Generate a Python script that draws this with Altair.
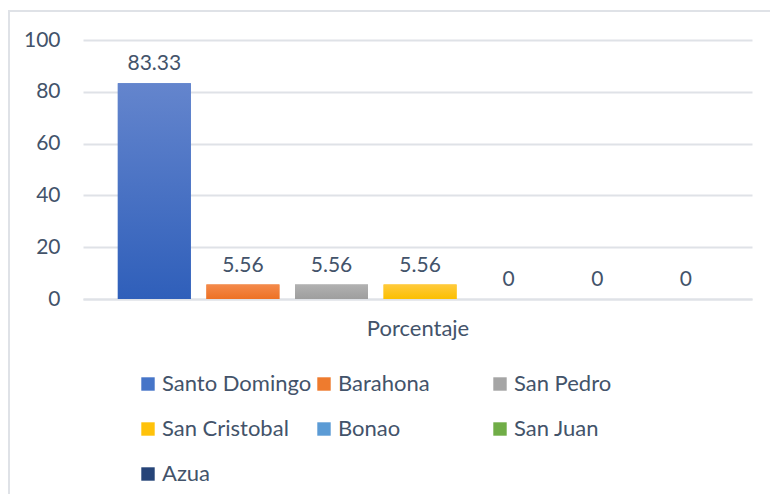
import altair as alt
import pandas as pd

# ---- data ----
series = ["Santo Domingo", "Barahona", "San Pedro", "San Cristobal", "Bonao", "San Juan", "Azua"]
values = [83.33, 5.56, 5.56, 5.56, 0, 0, 0]
labels = ["83.33", "5.56", "5.56", "5.56", "0", "0", "0"]
y_ticks = [0, 20, 40, 60, 80, 100]
category = "Porcentaje"

# ---- styles ----
colors = ["#4675c8", "#ee7b2e", "#a5a5a5", "#ffc20a", "#5b9bd5", "#70ad47", "#264478"]
grad_top = ["#6485cd", "#f48a4b", "#b1b1b1", "#ffca3c", "#6aa5da", "#7db755", "#30528a"]
grad_bot = ["#2f5fba", "#ed7124", "#9e9e9e", "#fbbf00", "#4a8dcc", "#62a03b", "#1f3c6b"]

df = pd.DataFrame({"serie": series, "valor": values, "etiqueta": labels})

FONT = "Lato"
TXT = "#43536a"
GRID = "#dfe2e7"

x_scale = alt.Scale(paddingInner=0.176, paddingOuter=0.364, align=0.54)

x_enc = alt.X(
    "serie:N",
    sort=series,
    scale=x_scale,
    axis=alt.Axis(
        title=category, labels=False, ticks=False, domain=True,
        domainColor=GRID, domainWidth=2,
        titleFont=FONT, titleFontSize=22, titleFontWeight="normal",
        titleColor=TXT, titlePadding=19,
    ),
)
y_enc = alt.Y(
    "valor:Q",
    scale=alt.Scale(domain=[0, 100]),
    axis=alt.Axis(
        values=y_ticks, title=None, domain=False, ticks=False, tickSize=0,
        labelPadding=23, labelFont=FONT, labelFontSize=21, labelColor=TXT,
        gridColor=GRID, gridWidth=2,
    ),
)

bars = alt.Chart(df).mark_bar().encode(
    x=x_enc,
    y=y_enc,
    color=alt.Color(
        "serie:N",
        sort=series,
        scale=alt.Scale(domain=series, range=colors),
        legend=alt.Legend(
            title=None, orient="none", legendX=54, legendY=333,
            direction="horizontal", columns=3, gridAlign="all",
            columnPadding=1, rowPadding=23,
            symbolType="square", symbolSize=180, symbolStrokeWidth=0,
            labelFont=FONT, labelFontSize=22, labelColor=TXT,
            labelOffset=3, padding=0,
        ),
    ),
)

grad_layers = []
for name, top, bot in zip(series, grad_top, grad_bot):
    grad = alt.Gradient(
        gradient="linear", x1=0, x2=0, y1=0, y2=1,
        stops=[alt.GradientStop(color=top, offset=0), alt.GradientStop(color=bot, offset=1)],
    )
    grad_layers.append(
        alt.Chart(df)
        .transform_filter(alt.datum.serie == name)
        .mark_bar(color=grad)
        .encode(x=alt.X("serie:N", sort=series), y=alt.Y("valor:Q"))
    )

text = alt.Chart(df).mark_text(
    font=FONT, fontSize=21, color=TXT, baseline="middle", dy=-19
).encode(
    x=alt.X("serie:N", sort=series),
    y=alt.Y("valor:Q"),
    text="etiqueta:N",
)

frame = alt.Data(values=[{}])
border_left = alt.Chart(frame).mark_rule(color=GRID, strokeWidth=2).encode(
    x=alt.value(-74), y=alt.value(-29), y2=alt.value(460)
)
border_top = alt.Chart(frame).mark_rule(color=GRID, strokeWidth=2).encode(
    x=alt.value(-75), x2=alt.value(700), y=alt.value(-29)
)

chart = alt.layer(border_left, border_top, bars, *grad_layers, text).properties(
    width=669,
    height=259,
    padding={"left": 75, "top": 32, "right": 18, "bottom": 195},
    autosize=alt.AutoSizeParams(type="none"),
    background="white",
).configure_view(stroke=None)

chart.save("out.html", embed_options={"renderer": "svg", "actions": False})
